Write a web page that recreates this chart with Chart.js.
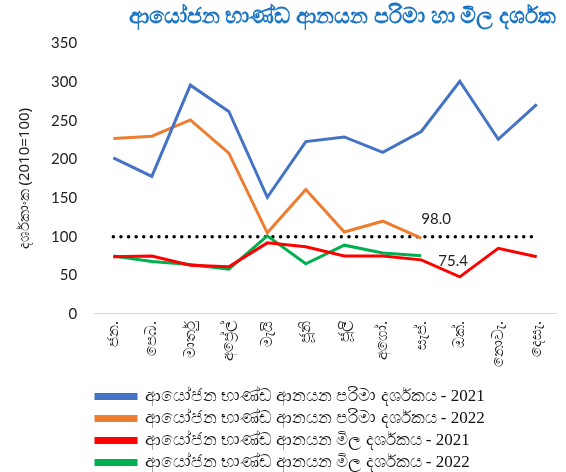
<!DOCTYPE html>
<html>
<head>
<meta charset="utf-8">
<script src="https://cdn.jsdelivr.net/npm/chart.js@4"></script>
<style>
  html, body { margin: 0; padding: 0; background: #fff; }
  #wrap { width: 566px; height: 472px; }
</style>
</head>
<body>
<div id="wrap"><canvas id="chart" width="566" height="472"></canvas></div>
<script>
// months (Sinhala short names)
const months = ["ජන.", "පෙබ.", "මාර්තු", "අප්‍රේල්", "මැයි", "ජූනි", "ජූලි", "අගෝ.", "සැප්.", "ඔක්.", "නොවැ.", "දෙසැ."]

// import volume index
const volume2021 = [202, 178, 296, 262, 151, 223, 229, 209, 236, 301, 226, 271]
const volume2022 = [227, 230, 251, 208, 105, 161, 106, 120, 98.0]

// import price index
const price2021 = [74, 75, 63, 61, 92, 87, 75, 75, 70, 48, 85, 74]
const price2022 = [75, 68, 64, 58, 101, 65, 89, 79, 75.4]

const baseLine = [100, 100, 100, 100, 100, 100, 100, 100, 100, 100, 100, 100]

const seriesNames = [
  "ආයෝජන භාණ්ඩ ආනයන පරිමා දර්ශකය - 2021",
  "ආයෝජන භාණ්ඩ ආනයන පරිමා දර්ශකය - 2022",
  "ආයෝජන භාණ්ඩ ආනයන මිල දර්ශකය - 2021",
  "ආයෝජන භාණ්ඩ ආනයන මිල දර්ශකය - 2022"
]

const lineDs = (label, data, color) => ({
  label, data,
  borderColor: color, backgroundColor: color,
  borderWidth: 3, pointRadius: 0, tension: 0
})

// labels on the last 2022 points
const endLabels = {
  id: "endLabels",
  afterDatasetsDraw(chart) {
    const ctx = chart.ctx
    ctx.save()
    ctx.font = "15px Lato, sans-serif"
    ctx.fillStyle = "#222"
    ctx.textBaseline = "middle"
    ctx.textAlign = "left"
    const p1 = chart.getDatasetMeta(1).data[8]
    ctx.fillText("98.0", p1.x, p1.y - 19)
    const p3 = chart.getDatasetMeta(3).data[8]
    ctx.fillText("75.4", p3.x + 17, p3.y + 5)
    ctx.restore()
  }
}

// move the legend so it starts under the plot, like the original
const legendShift = {
  id: "legendShift",
  afterLayout(chart) {
    chart.legend.left += 79
    chart.legend.top += 9
  }
}

new Chart(document.getElementById("chart"), {
  type: "line",
  data: {
    labels: months,
    datasets: [
      lineDs(seriesNames[0], volume2021, "#4472C4"),
      lineDs(seriesNames[1], volume2022, "#ED7D31"),
      lineDs(seriesNames[2], price2021, "#FF0000"),
      lineDs(seriesNames[3], price2022, "#00B050"),
      {
        label: "base", data: baseLine,
        borderColor: "#000", borderWidth: 3.5,
        borderDash: [0, 7.6], borderCapStyle: "round",
        pointRadius: 0
      }
    ]
  },
  options: {
    responsive: false,
    animation: false,
    layout: { padding: { left: 12, right: 10, top: 2, bottom: 0 } },
    plugins: {
      title: {
        display: true,
        text: "ආයෝජන භාණ්ඩ ආනයන පරිමා හා මිල දර්ශක",
        align: "end",
        color: "#1B75C4",
        font: { family: "'Noto Sans', sans-serif", size: 22, weight: "bold" },
        padding: { top: 2, bottom: 13 }
      },
      legend: {
        position: "bottom",
        align: "start",
        labels: {
          filter: (item) => item.text !== "base",
          boxWidth: 40,
          boxHeight: 4,
          padding: 5,
          color: "#111",
          font: { family: "'Liberation Serif', serif", size: 17 }
        }
      },
      tooltip: { enabled: false }
    },
    scales: {
      x: {
        offset: true,
        grid: { display: false, drawTicks: false },
        border: { display: true, color: "#d9d9d9", width: 1 },
        ticks: {
          minRotation: 90, maxRotation: 90,
          color: "#222", padding: 7,
          font: { family: "'Noto Sans', sans-serif", size: 15 }
        }
      },
      y: {
        min: 0, max: 350,
        grid: { display: false, drawTicks: false },
        border: { display: false },
        ticks: {
          stepSize: 50, color: "#222", padding: 17,
          font: { family: "Lato, sans-serif", size: 15 }
        },
        title: {
          display: true,
          text: "දර්ශකාංක (2010=100)",
          color: "#222",
          font: { family: "'Noto Sans', sans-serif", size: 15 },
          padding: { top: 4, bottom: 0 }
        }
      }
    }
  },
  plugins: [endLabels, legendShift]
})
</script>
</body>
</html>
